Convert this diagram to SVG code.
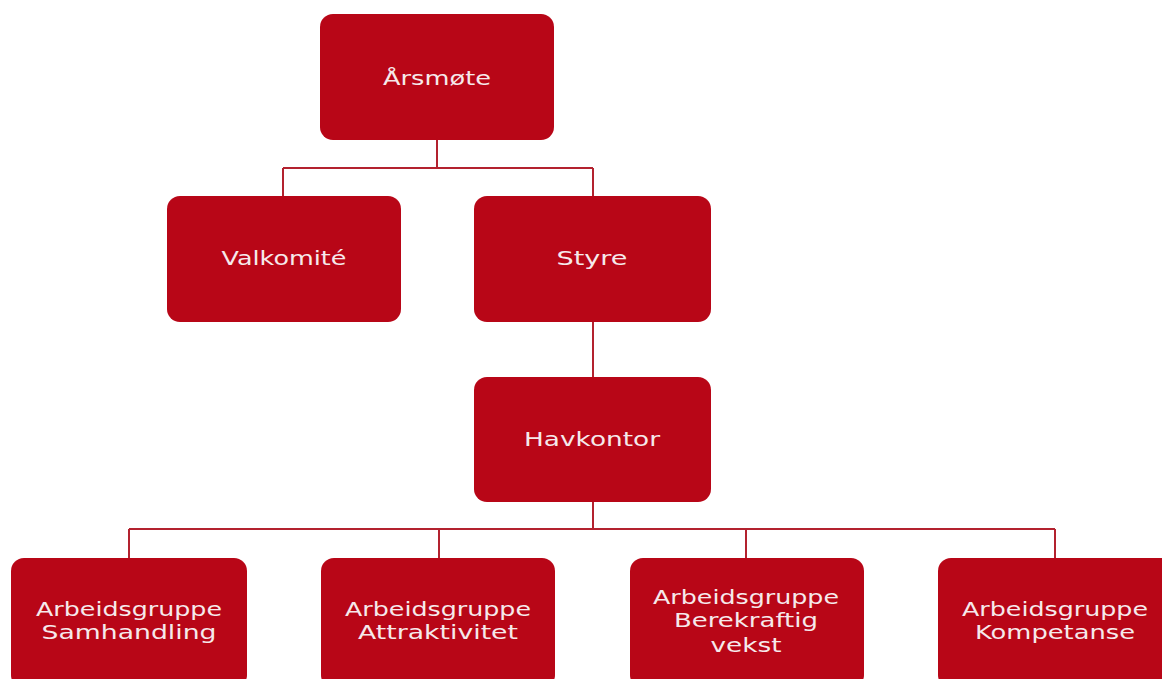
<svg xmlns="http://www.w3.org/2000/svg" width="1162" height="679" viewBox="0 0 1162 679">
<style>
.box{fill:#b80617;}
.lbl{font-family:"DejaVu Sans",Verdana,sans-serif;font-size:20px;fill:#f6e9eb;text-anchor:middle;}
.conn{fill:none;stroke:#b3222f;stroke-width:2;}
</style>
<rect width="1162" height="679" fill="#ffffff"/>
<g id="connectors">
<path class="conn" d="M437 140V168M283 168H593M283 168V196M593 168V196"/>
<path class="conn" d="M593 322V377"/>
<path class="conn" d="M593 502V529M129 529H1055M129 529V558M439 529V558M746 529V558M1055 529V558"/>
</g>
<g id="n-arsmote">
<rect class="box" x="320" y="14" width="234" height="126" rx="13"/>
<text class="lbl" x="437" y="85" textLength="108" lengthAdjust="spacingAndGlyphs">Årsmøte</text>
</g>
<g id="n-valkomite">
<rect class="box" x="167" y="196" width="234" height="126" rx="13"/>
<text class="lbl" x="284" y="265" textLength="125" lengthAdjust="spacingAndGlyphs">Valkomité</text>
</g>
<g id="n-styre">
<rect class="box" x="474" y="196" width="237" height="126" rx="13"/>
<text class="lbl" x="592" y="265" textLength="71" lengthAdjust="spacingAndGlyphs">Styre</text>
</g>
<g id="n-havkontor">
<rect class="box" x="474" y="377" width="237" height="125" rx="13"/>
<text class="lbl" x="592" y="446" textLength="136" lengthAdjust="spacingAndGlyphs">Havkontor</text>
</g>
<g id="n-samhandling">
<rect class="box" x="11" y="558" width="236" height="130" rx="13"/>
<text class="lbl" x="129" y="616" textLength="186" lengthAdjust="spacingAndGlyphs">Arbeidsgruppe</text>
<text class="lbl" x="129" y="639" textLength="175" lengthAdjust="spacingAndGlyphs">Samhandling</text>
</g>
<g id="n-attraktivitet">
<rect class="box" x="321" y="558" width="234" height="130" rx="13"/>
<text class="lbl" x="438" y="616" textLength="186" lengthAdjust="spacingAndGlyphs">Arbeidsgruppe</text>
<text class="lbl" x="438" y="639" textLength="160" lengthAdjust="spacingAndGlyphs">Attraktivitet</text>
</g>
<g id="n-berekraftig">
<rect class="box" x="630" y="558" width="234" height="130" rx="13"/>
<text class="lbl" x="746" y="604" textLength="186" lengthAdjust="spacingAndGlyphs">Arbeidsgruppe</text>
<text class="lbl" x="746" y="627" textLength="144" lengthAdjust="spacingAndGlyphs">Berekraftig</text>
<text class="lbl" x="746" y="652" textLength="71" lengthAdjust="spacingAndGlyphs">vekst</text>
</g>
<g id="n-kompetanse">
<rect class="box" x="938" y="558" width="236" height="130" rx="13"/>
<text class="lbl" x="1055" y="616" textLength="186" lengthAdjust="spacingAndGlyphs">Arbeidsgruppe</text>
<text class="lbl" x="1055" y="639" textLength="160" lengthAdjust="spacingAndGlyphs">Kompetanse</text>
</g>
</svg>
